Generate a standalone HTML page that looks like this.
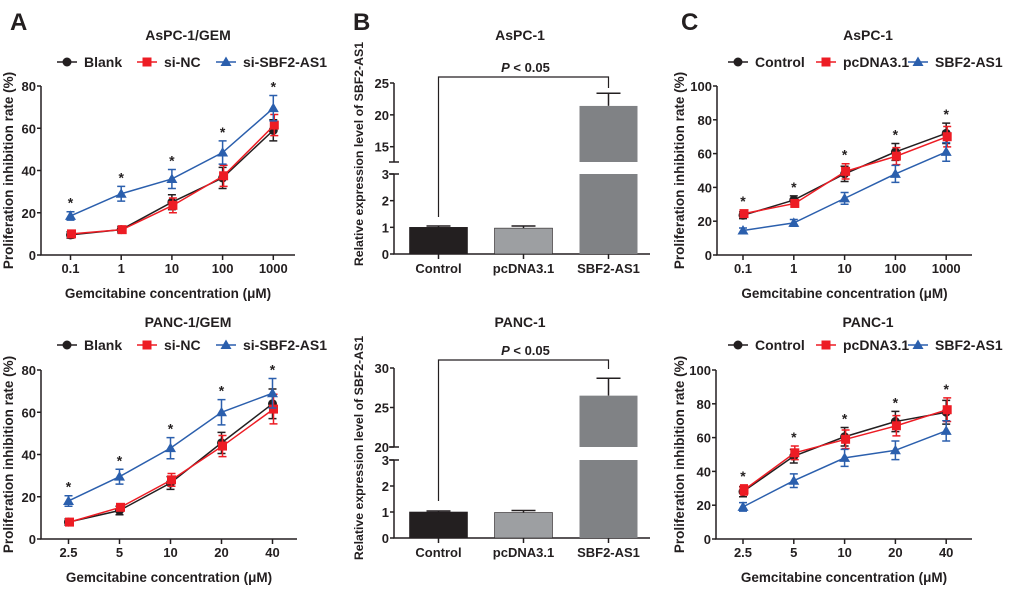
<!DOCTYPE html>
<html><head><meta charset="utf-8">
<style>
html,body{margin:0;padding:0;background:#fff;}
svg{display:block;font-family:"Liberation Sans",Arial,sans-serif;font-weight:bold;}
</style></head>
<body>
<svg id="fig" width="1020" height="589" viewBox="0 0 1020 589" xmlns="http://www.w3.org/2000/svg"></svg>
<script>
// ---- Panel A top data ----
const aTopCats = ["0.1","1","10","100","1000"];
const aTopBlank = [9.5,12,25,36.5,59];
const aTopBlankErr = [1.5,1.5,3.5,5,5];
const aTopNC = [10,12,23.5,37.5,61.5];
const aTopNCErr = [1.5,1.5,3.5,5,5];
const aTopSi = [18.5,29,36,48.5,69.5];
const aTopSiErr = [2,3.5,4.5,5.5,6];
// ---- Panel A bottom ----
const aBotCats = ["2.5","5","10","20","40"];
const aBotBlank = [8,13.5,26.5,45.5,64];
const aBotBlankErr = [1.5,2,3,5,7];
const aBotNC = [8,15,28,44,61.5];
const aBotNCErr = [1.5,1.5,3,5,7];
const aBotSi = [18,29.5,43,60,69];
const aBotSiErr = [2.5,3.5,5,6,7];
// ---- Panel C top ----
const cTopCats = ["0.1","1","10","100","1000"];
const cTopCtrl = [23.5,32.5,48,61,72];
const cTopCtrlErr = [2,2.5,4.5,5,6];
const cTopPc = [24.5,30.5,49.5,58.5,70];
const cTopPcErr = [2,2,4.5,5,6];
const cTopSbf = [14.5,19,33.5,48,61];
const cTopSbfErr = [1.5,2,3.5,5,5.5];
// ---- Panel C bottom ----
const cBotCats = ["2.5","5","10","20","40"];
const cBotCtrl = [28,49,60.5,69.5,75];
const cBotCtrlErr = [3,4,5.5,6,7];
const cBotPc = [29,51,59,67,76.5];
const cBotPcErr = [3,4,5.5,6,7];
const cBotSbf = [19,34.5,48,52.5,64];
const cBotSbfErr = [2.5,4,5,5.5,6];
// ---- Panel B ----
const barCats = ["Control","pcDNA3.1","SBF2-AS1"];
const bTopVals = [1.0,0.97,21.4];
const bTopErr = [0.05,0.08,2.0];
const bBotVals = [1.0,0.98,26.5];
const bBotErr = [0.04,0.08,2.2];
const bTopHiTicks = [15,20,25];
const bBotHiTicks = [20,25,30];
const bLoTicks = [0,1,2,3];

const NS="http://www.w3.org/2000/svg";
const svg=document.getElementById('fig');
function el(tag,attrs,parent,text){
  const e=document.createElementNS(NS,tag);
  for(const k in attrs) e.setAttribute(k,attrs[k]);
  if(text!==undefined) e.textContent=text;
  (parent||svg).appendChild(e);
  return e;
}
function txt(x,y,s,size,anchor,parent,name,extra){
  const t=el('text',Object.assign({x:x,y:y,'font-size':size,'text-anchor':anchor||'middle',fill:'#231f20'},extra||{}),parent,s);
  
  
  return t;
}
function marker(g,type,x,y,color){
  let m;
  if(type==='circle') m=el('circle',{cx:x,cy:y,r:4.5,fill:color},g);
  else if(type==='square') m=el('rect',{x:x-4.5,y:y-4.5,width:9,height:9,fill:color},g);
  else m=el('polygon',{points:`${x},${y-5.5} ${x-5.5},${y+4} ${x+5.5},${y+4}`,fill:color},g);
  
  
}

function linePanel(o){
  const g=el('g',{},svg);
  
  
  const x0=o.ax0,x1=o.ax1,yTop=o.yTop,yBot=o.yBot;
  const yS=v=>yBot-(v/o.ymax)*(yBot-yTop);
  const xS=i=>o.xFirst+i*o.xStep;
  const ax=el('path',{d:`M${x0},${yTop}V${yBot}H${x1}`,stroke:'#231f20','stroke-width':1.5,fill:'none'},g);
  
  
  for(let v=0;v<=o.ymax;v+=20){
    el('line',{x1:x0-4,x2:x0,y1:yS(v),y2:yS(v),stroke:'#231f20','stroke-width':1.5},g);
    txt(x0-5,yS(v)+5,String(v),13,'end',g,'y-tick-label');
  }
  o.cats.forEach((c,i)=>{
    el('line',{x1:xS(i),x2:xS(i),y1:yBot,y2:yBot+5,stroke:'#231f20','stroke-width':1.5},g);
    txt(xS(i),yBot+18,c,13,'middle',g,'x-tick-label');
  });
  txt((x0+x1)/2,yBot+43,'Gemcitabine concentration (\u03bcM)',13.5,'middle',g,'x-axis-title');
  const yc=(yTop+yBot)/2;
  txt(o.ytx,yc,'Proliferation inhibition rate (%)',13.5,'middle',g,'y-axis-title',{transform:`rotate(-90 ${o.ytx} ${yc})`});
  txt(o.titleX,o.titleY,o.title,14,'middle',g,'chart-title');
  o.series.forEach(s=>{
    const sg=el('g',{},g);
    
    
    s.vals.forEach((v,i)=>{
      const x=xS(i)+s.dx;
      const e=s.err[i];
      el('path',{d:`M${x},${yS(v+e)}V${yS(v-e)}M${x-4},${yS(v+e)}H${x+4}M${x-4},${yS(v-e)}H${x+4}`,stroke:s.color,'stroke-width':1.5,fill:'none'},sg);
    });
    const pts=s.vals.map((v,i)=>`${xS(i)+s.dx},${yS(v)}`).join(' ');
    const pl=el('polyline',{points:pts,stroke:s.color,'stroke-width':1.5,fill:'none'},sg);
    
    
    s.vals.forEach((v,i)=>marker(sg,s.type,xS(i)+s.dx,yS(v),s.color));
  });
  o.cats.forEach((c,i)=>{
    let mx=0;o.series.forEach(s=>{mx=Math.max(mx,s.vals[i]+s.err[i]);});
    txt(xS(i),yS(mx)-4,'*',14,'middle',g,'significance-star');
  });
  o.series.forEach((s,k)=>{
    const lg=el('g',{},g);
    
    
    const mx=o.legX[k];
    el('line',{x1:mx-10,x2:mx+10,y1:o.legY,y2:o.legY,stroke:s.color,'stroke-width':1.5},lg);
    marker(lg,s.type,mx,o.legY,s.color);
    txt(mx+17,o.legY+5,s.label,14,'start',lg,'legend-label');
  });
}

const blk='#231f20',red='#ed1c24',blu='#2b5fad';
function aSeries(b,be,n,ne,s,se){return [
 {label:'Blank',vals:b,err:be,color:blk,type:'circle',dx:0},
 {label:'si-NC',vals:n,err:ne,color:red,type:'square',dx:1},
 {label:'si-SBF2-AS1',vals:s,err:se,color:blu,type:'triangle',dx:0}];}
function cSeries(b,be,n,ne,s,se){return [
 {label:'Control',vals:b,err:be,color:blk,type:'circle',dx:0},
 {label:'pcDNA3.1',vals:n,err:ne,color:red,type:'square',dx:1},
 {label:'SBF2-AS1',vals:s,err:se,color:blu,type:'triangle',dx:0}];}

linePanel({name:'panel-a-top',ax0:41,ax1:295,yTop:86,yBot:255,ymax:80,xFirst:70.5,xStep:50.7,cats:aTopCats,
  ytx:13,title:'AsPC-1/GEM',titleX:188,titleY:40,legY:62,legX:[67,147,226],
  series:aSeries(aTopBlank,aTopBlankErr,aTopNC,aTopNCErr,aTopSi,aTopSiErr)});
linePanel({name:'panel-a-bottom',ax0:41,ax1:297,yTop:370,yBot:539,ymax:80,xFirst:68.5,xStep:51,cats:aBotCats,
  ytx:13,title:'PANC-1/GEM',titleX:188,titleY:327,legY:345,legX:[67,147,226],
  series:aSeries(aBotBlank,aBotBlankErr,aBotNC,aBotNCErr,aBotSi,aBotSiErr)});
linePanel({name:'panel-c-top',ax0:717,ax1:972,yTop:86,yBot:255,ymax:100,xFirst:743,xStep:50.8,cats:cTopCats,
  ytx:684,title:'AsPC-1',titleX:868,titleY:40,legY:62,legX:[738,826,918],
  series:cSeries(cTopCtrl,cTopCtrlErr,cTopPc,cTopPcErr,cTopSbf,cTopSbfErr)});
linePanel({name:'panel-c-bottom',ax0:716,ax1:972,yTop:370,yBot:539,ymax:100,xFirst:743,xStep:50.8,cats:cBotCats,
  ytx:684,title:'PANC-1',titleX:868,titleY:327,legY:345,legX:[738,826,918],
  series:cSeries(cBotCtrl,cBotCtrlErr,cBotPc,cBotPcErr,cBotSbf,cBotSbfErr)});

function barPanel(o){
  const g=el('g',{},svg);
  
  
  const x0=394,x1=650;
  const loY=v=>o.loBot-(v/3)*(o.loBot-o.loTop);
  const hiY=v=>o.hiBot-(v-o.hiMin)/(o.hiMax-o.hiMin)*(o.hiBot-o.hiTop);
  const vy=v=>v<=3?loY(v):hiY(v);
  el('path',{d:`M${x0},${o.loTop}V${o.loBot}H${x1}M${x0},${o.hiTop}V${o.hiBot}M${x0-5},${o.hiBot}H${x0+5}M${x0-5},${o.loTop}H${x0+5}`,stroke:'#231f20','stroke-width':1.5,fill:'none'},g);
  bLoTicks.forEach(v=>{el('line',{x1:x0-4,x2:x0,y1:loY(v),y2:loY(v),stroke:'#231f20','stroke-width':1.5},g);txt(x0-5,loY(v)+5,String(v),13,'end',g,'y-tick-label');});
  o.hiTicks.forEach(v=>{el('line',{x1:x0-4,x2:x0,y1:hiY(v),y2:hiY(v),stroke:'#231f20','stroke-width':1.5},g);txt(x0-5,hiY(v)+5,String(v),13,'end',g,'y-tick-label');});
  const cols=['#231f20','#9d9fa2','#808285'];
  const cx=i=>438.5+i*85;
  o.vals.forEach((v,i)=>{
    const bw=58,bx=cx(i)-bw/2;
    const eTop=vy(v+o.err[i]);
    el('path',{d:`M${cx(i)},${vy(v)}V${eTop}M${cx(i)-12},${eTop}H${cx(i)+12}`,stroke:'#231f20','stroke-width':1.5,fill:'none'},g);
    let b;
    if(v<=3){ b=el('rect',{x:bx,y:loY(v),width:bw,height:o.loBot-loY(v),fill:cols[i],stroke:'#231f20','stroke-width':0.6},g); }
    else{
      b=el('rect',{x:bx,y:o.loTop,width:bw,height:o.loBot-o.loTop,fill:cols[i]},g);
      const b2=el('rect',{x:bx,y:hiY(v),width:bw,height:o.hiBot-hiY(v),fill:cols[i]},g);
      
      
    }
    
    
    el('line',{x1:cx(i),x2:cx(i),y1:o.loBot,y2:o.loBot+5,stroke:'#231f20','stroke-width':1.5},g);
    txt(cx(i),o.loBot+19,barCats[i],13,'middle',g,'x-tick-label');
  });
  el('path',{d:`M${cx(0)},${o.legL}V${o.brY}H${cx(2)}V${o.legR}`,stroke:'#231f20','stroke-width':1.2,fill:'none'},g);
  const pt=txt(cx(1)+2,o.brY-5,'',13,'middle',g,'p-value-label');
  el('tspan',{'font-style':'italic'},pt,'P');
  el('tspan',{},pt,' < 0.05');
  txt(520,o.titleY,o.title,14,'middle',g,'chart-title');
  txt(363,o.ytc,'Relative expression level of SBF2-AS1',12.3,'middle',g,'y-axis-title',{transform:`rotate(-90 363 ${o.ytc})`});
}
barPanel({name:'panel-b-top',vals:bTopVals,err:bTopErr,hiTicks:bTopHiTicks,loTop:174,loBot:254,hiTop:83,hiBot:162,hiMin:12.6,hiMax:25,
  brY:77,legL:217,legR:88,title:'AsPC-1',titleY:40,ytc:154});
barPanel({name:'panel-b-bottom',vals:bBotVals,err:bBotErr,hiTicks:bBotHiTicks,loTop:460,loBot:538,hiTop:368,hiBot:447,hiMin:20,hiMax:30,
  brY:360,legL:501,legR:369,title:'PANC-1',titleY:327,ytc:448});

txt(10,30,'A',24,'start',svg,'panel-label-a');
txt(353,30,'B',24,'start',svg,'panel-label-b');
txt(681,30,'C',24,'start',svg,'panel-label-c');
</script>
</body></html>
